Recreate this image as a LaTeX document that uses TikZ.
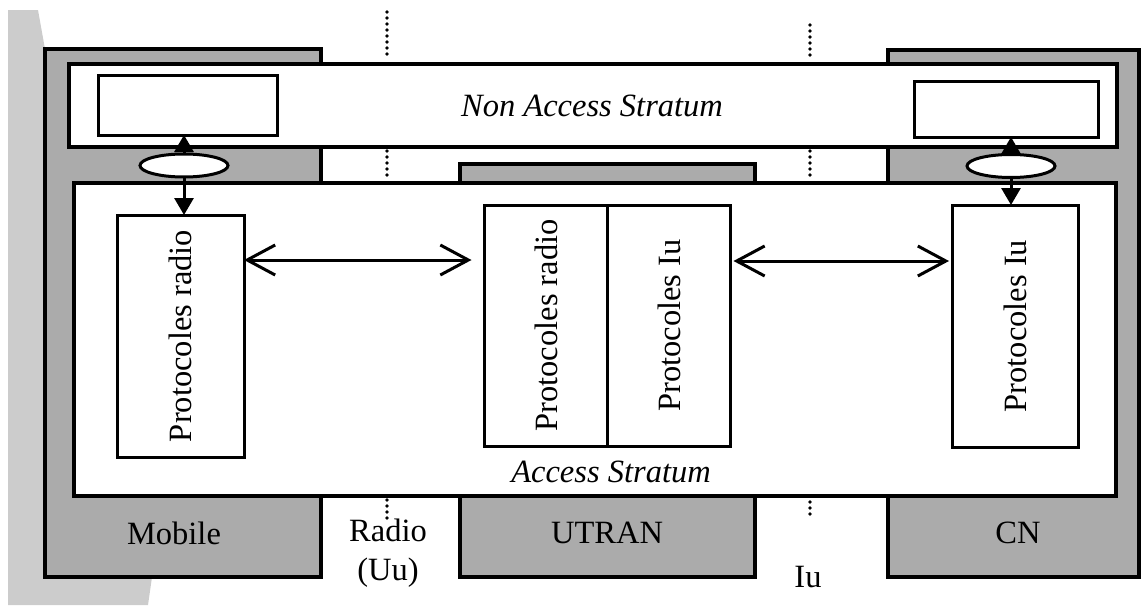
\documentclass[tikz,border=0pt]{standalone}
\usepackage{fontspec}
\setmainfont{Liberation Serif}
\usetikzlibrary{arrows.meta,shapes.geometric}
\begin{document}
\begin{tikzpicture}[x=1pt,y=-1pt,
  every node/.style={inner sep=0pt,outer sep=0pt,font=\fontsize{32.5}{38}\selectfont},
  graybox/.style={draw=black,line width=3.2pt,fill=black!33,rectangle},
  whitebox/.style={draw=black,line width=3.2pt,fill=white,rectangle},
  protobox/.style={draw=black,line width=3pt,fill=white,rectangle},
  ellnode/.style={draw=black,line width=3pt,fill=white,ellipse,minimum width=88pt,minimum height=23pt},
  harrow/.style={line width=3pt,{Straight Barb[length=28pt,width=30pt]}-{Straight Barb[length=28pt,width=30pt]}},
  varrow/.style={line width=3pt,-{Triangle[length=17pt,width=19pt]}},
  sepline/.style={line width=3.8pt,line cap=round,dash pattern=on 0pt off 6pt},
  lbl/.style={align=center,font=\fontsize{32.5}{39}\selectfont}
]
\useasboundingbox (0,0) rectangle (1143,605);
% scan shadow on the left
\fill[black!20] (8,10) -- (38,10) -- (45,49) -- (45,577) -- (152,577) -- (148,605) -- (8,605) -- cycle;
% gray columns
\node[graybox,minimum width=276pt,minimum height=528pt] (mobile) at (183,313) {};
\node[graybox,minimum width=295pt,minimum height=413pt] (utran) at (607.5,370.5) {};
\node[graybox,minimum width=251pt,minimum height=527pt] (cn) at (1013.5,313.5) {};
% strata
\node[whitebox,minimum width=1048pt,minimum height=83pt] (nas) at (593,105.5) {};
\node[whitebox,minimum width=1042pt,minimum height=313pt] (as) at (595,339.5) {};
\node at (592,106) {\itshape Non Access Stratum};
\node at (611,472) {\itshape Access Stratum};
% NAS inner boxes
\node[protobox,minimum width=179pt,minimum height=60pt] (nasl) at (187.5,105) {};
\node[protobox,minimum width=184pt,minimum height=56pt] (nasr) at (1006,109) {};
% protocol boxes
\node[protobox,minimum width=127pt,minimum height=242pt] (mobp) at (180.5,336) {};
\node[protobox,minimum width=123pt,minimum height=241pt] (utr1) at (546,325.5) {};
\node[protobox,minimum width=123pt,minimum height=241pt] (utr2) at (669,325.5) {};
\node[protobox,minimum width=126pt,minimum height=242pt] (cnp) at (1015,326) {};
\node[rotate=90] at (mobp) {Protocoles radio};
\node[rotate=90] at (utr1) {Protocoles radio};
\node[rotate=90] at (utr2) {Protocoles Iu};
\node[rotate=90] at (cnp) {Protocoles Iu};
% horizontal arrows
\coordinate (a1) at (mobp.east |- 0,260);
\coordinate (a2) at (utr1.west |- 0,260);
\coordinate (b1) at (utr2.east |- 0,261);
\coordinate (b2) at (cnp.west |- 0,261);
\draw[harrow,shorten >=13pt] (a1) -- (a2);
\draw[harrow,shorten <=3pt,shorten >=3pt] (b1) -- (b2);
% ellipses and vertical arrows
\node[ellnode] (ell1) at (184,165.5) {};
\node[ellnode] (ell2) at (1011,166) {};
\draw[varrow] (ell1.north) -- (ell1 |- nasl.south);
\draw[varrow] (ell1.south) -- (ell1 |- mobp.north);
\draw[varrow] (ell2.north) -- (ell2 |- nasr.south);
\draw[varrow] (ell2.south) -- (ell2 |- cnp.north);
% dotted separators
\coordinate (r1) at (387,12);  \coordinate (r2) at (387,58);
\coordinate (r3) at (387,151); \coordinate (r4) at (387,179);
\coordinate (r5) at (387,500); \coordinate (r6) at (387,518);
\coordinate (i1) at (810,25);  \coordinate (i2) at (810,60);
\coordinate (i3) at (810,151); \coordinate (i4) at (810,179);
\coordinate (i5) at (810,502); \coordinate (i6) at (810,518);
\draw[sepline] (r1) -- (r2);
\draw[sepline] (r3) -- (r4);
\draw[sepline] (r5) -- (r6);
\draw[sepline] (i1) -- (i2);
\draw[sepline] (i3) -- (i4);
\draw[sepline] (i5) -- (i6);
% labels
\node[lbl] (lmob) at (174,533) {Mobile};
\node[lbl] (lrad) at (388,553) {Radio\\(Uu)};
\node[lbl] (lutr) at (607,533) {UTRAN};
\node[lbl] (liu) at (808,577) {Iu};
\node[lbl] (lcn) at (1018,533) {CN};
\end{tikzpicture}
\end{document}
